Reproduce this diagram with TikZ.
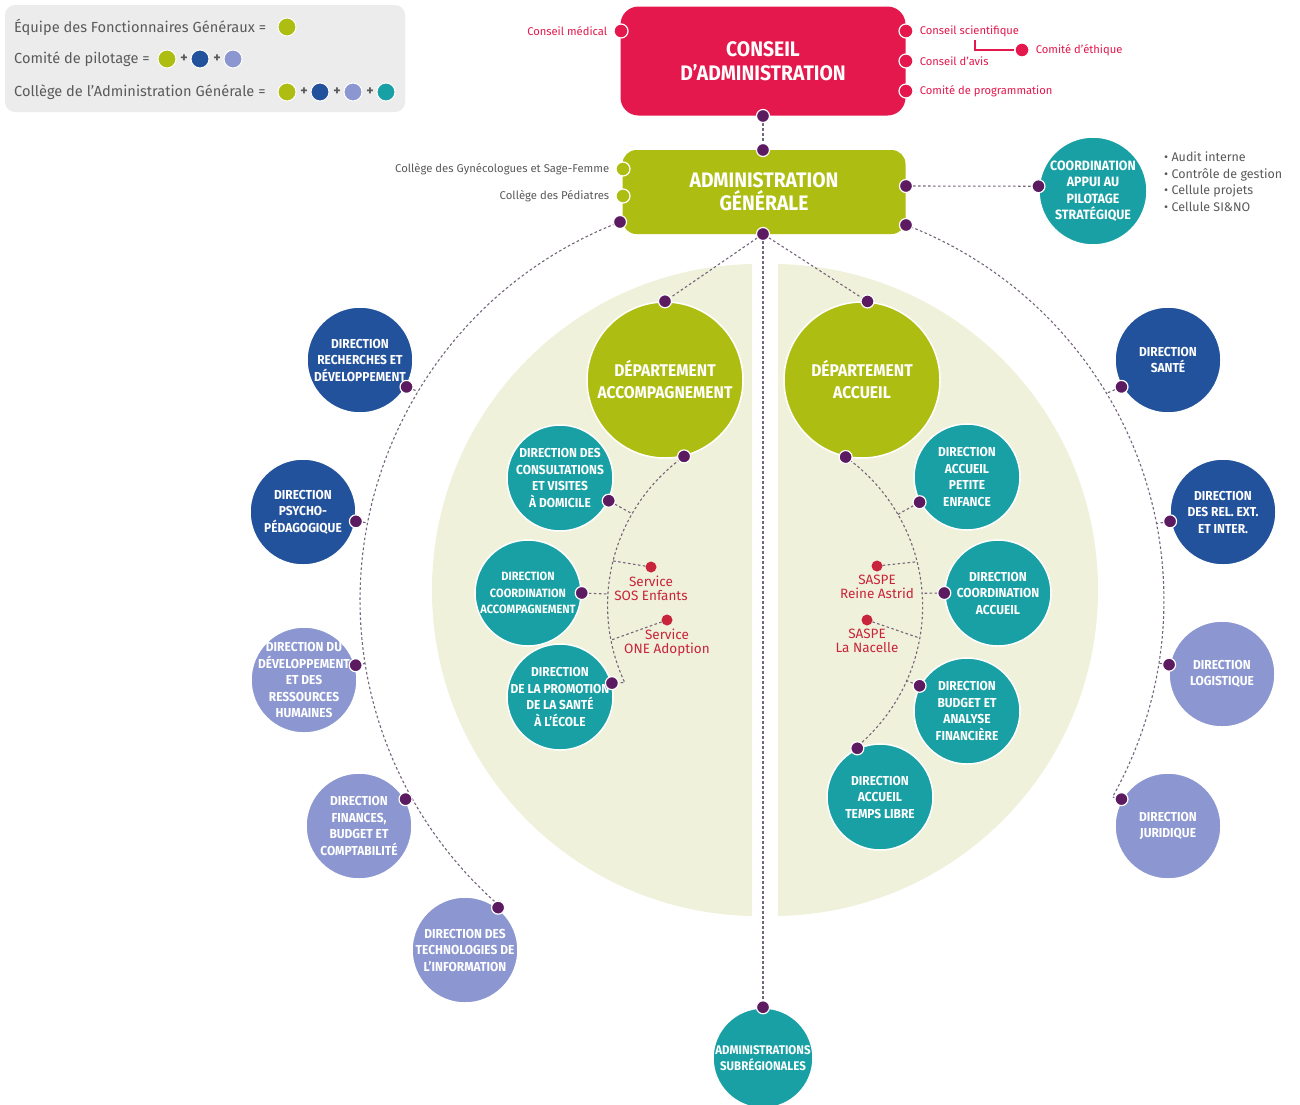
\documentclass[tikz,border=0pt]{standalone}
\usepackage{fontspec}
\setmainfont{Fira Sans}
\newfontfamily\dinfont[FakeStretch=0.92]{Fira Sans}
\usetikzlibrary{positioning}

\definecolor{cared}{RGB}{228,24,76}
\definecolor{agreen}{RGB}{174,189,18}
\definecolor{dirteal}{RGB}{24,160,164}
\definecolor{dirblue}{RGB}{35,82,156}
\definecolor{dirlav}{RGB}{140,150,208}
\definecolor{dotplum}{RGB}{92,26,96}
\definecolor{linkgray}{RGB}{118,100,124}
\definecolor{paleback}{RGB}{240,241,218}
\definecolor{leggray}{RGB}{236,236,236}
\definecolor{txtgray}{RGB}{90,90,90}
\definecolor{saspered}{RGB}{200,36,60}

\pgfdeclarelayer{back}
\pgfdeclarelayer{links}
\pgfsetlayers{back,links,main}

\tikzset{
  dir/.style={circle, draw=white, line width=1.5pt, minimum size=106pt, inner sep=-15pt,
    text=white, align=center, font=\dinfont\bfseries\fontsize{13}{16.5}\selectfont},
  bluedir/.style={dir, fill=dirblue},
  lavdir/.style={dir, fill=dirlav},
  tealdir/.style={dir, fill=dirteal},
  dept/.style={circle, draw=white, line width=1.5pt, fill=agreen, minimum size=156pt, inner sep=0pt,
    text=white, align=center, font=\dinfont\bfseries\fontsize{17}{22}\selectfont},
  cabox/.style={rectangle, rounded corners=18pt, fill=cared, minimum width=285pt, minimum height=109pt,
    text=white, align=center, font=\dinfont\bfseries\fontsize{21}{24}\selectfont},
  agbox/.style={rectangle, rounded corners=14pt, fill=agreen, minimum width=283pt, minimum height=84pt,
    text=white, align=center, font=\dinfont\bfseries\fontsize{21}{23}\selectfont},
  pdot/.style={circle, fill=dotplum, draw=white, line width=1.2pt, minimum size=13pt, inner sep=0pt},
  rdot/.style={circle, fill=cared, draw=white, line width=1.2pt, minimum size=14pt, inner sep=0pt},
  gdot/.style={circle, fill=agreen, draw=white, line width=1.2pt, minimum size=14pt, inner sep=0pt},
  sdot/.style={circle, fill=saspered, minimum size=11pt, inner sep=0pt},
  link/.style={draw=linkgray, line width=1.1pt, dash pattern=on 2.6pt off 2.4pt},
  sidelbl/.style={inner sep=1pt, text=cared, font=\fontsize{11.2}{13}\selectfont},
  aglbl/.style={inner sep=1pt, text=txtgray, font=\fontsize{11.3}{13}\selectfont},
  svclbl/.style={inner sep=1pt, text=saspered, align=center, font=\fontsize{13.5}{14}\selectfont},
  legtxt/.style={inner sep=1pt, text=txtgray, font=\fontsize{14.6}{16}\selectfont},
  legplus/.style={inner sep=0pt, text=txtgray, font=\bfseries\fontsize{14}{14}\selectfont},
  legdot/.style={circle, draw=white, line width=1pt, minimum size=18pt, inner sep=0pt},
}

\begin{document}
\begin{tikzpicture}[x=1pt,y=1pt]
\useasboundingbox (0,0) rectangle (1300,-1104);

% pale halves behind the two departments
\begin{pgfonlayer}{back}
\fill [white] (0,0) rectangle (1300,-1104);
\begin{scope}
\clip (400,-240) rectangle (752,-940);
\fill [paleback] (758,-590) circle (326);
\end{scope}
\begin{scope}
\clip (778,-240) rectangle (1130,-940);
\fill [paleback] (772,-590) circle (326);
\end{scope}
\end{pgfonlayer}

% legend
\fill [leggray, rounded corners=10pt] (5,-5) rectangle (405,-112);
\node [legtxt, anchor=west] (legA) at (13,-27) {Équipe des Fonctionnaires Généraux =};
\node [legdot, fill=agreen] (legA1) at (287,-27) {};
\node [legtxt, anchor=west] (legB) at (13,-59) {Comité de pilotage =};
\node [legdot, fill=agreen] (legB1) at (167,-59) {};
\node [legplus] at (184,-59) {+};
\node [legdot, fill=dirblue] (legB2) at (200,-59) {};
\node [legplus] at (217,-59) {+};
\node [legdot, fill=dirlav] (legB3) at (233,-59) {};
\node [legtxt, anchor=west] (legC) at (13,-92) {Collège de l’Administration Générale =};
\node [legdot, fill=agreen] (legC1) at (287,-92) {};
\node [legplus] at (304,-92) {+};
\node [legdot, fill=dirblue] (legC2) at (320,-92) {};
\node [legplus] at (337,-92) {+};
\node [legdot, fill=dirlav] (legC3) at (353,-92) {};
\node [legplus] at (370,-92) {+};
\node [legdot, fill=dirteal] (legC4) at (386,-92) {};

% conseil d'administration
\node [cabox] (ca) at (763,-61) {CONSEIL\\D’ADMINISTRATION};
\node [rdot] (cmed) at (621,-31) {};
\node [sidelbl, left=5pt of cmed] {Conseil médical};
\node [rdot] (csci) at (906,-31) {};
\node [sidelbl, right=5pt of csci] {Conseil scientifique};
\node [rdot] (cavis) at (906,-61) {};
\node [sidelbl, right=5pt of cavis] {Conseil d’avis};
\node [rdot] (cprog) at (906,-91) {};
\node [sidelbl, right=5pt of cprog] {Comité de programmation};
\node [rdot] (ceth) at (1022,-50) {};
\node [sidelbl, right=5pt of ceth] {Comité d’éthique};
\coordinate (ethroot) at (975,-40);
\draw [cared, line width=1.3pt] (ethroot) |- (ceth);
\node [pdot] (cabot) at (763,-116) {};

% administration generale
\node [agbox] (ag) at (764,-192) {ADMINISTRATION\\GÉNÉRALE};
\node [pdot] (agtop) at (763,-150) {};
\node [gdot] (cgyn) at (623,-169) {};
\node [aglbl, left=5pt of cgyn] {Collège des Gynécologues et Sage-Femme};
\node [gdot] (cped) at (623,-196) {};
\node [aglbl, left=5pt of cped] {Collège des Pédiatres};
\node [pdot] (agbl) at (620,-222) {};
\node [pdot] (agbot) at (763,-234) {};
\node [pdot] (agbr) at (906,-225) {};
\node [pdot] (agr) at (906,-186) {};

\node [tealdir, minimum size=108pt, font=\dinfont\bfseries\fontsize{13.5}{16.5}\selectfont] (cap) at (1093,-191) {COORDINATION\\APPUI AU\\PILOTAGE\\STRATÉGIQUE};
\node [pdot] (capdot) at (cap.175) {};
\node [legtxt, anchor=north west, align=left, font=\fontsize{12.5}{16.5}\selectfont] (caplist) at (1163,-151)
  {• Audit interne\\• Contrôle de gestion\\• Cellule projets\\• Cellule SI\&NO};

% departements
\node [dept] (dacc) at (665,-380) {DÉPARTEMENT\\ACCOMPAGNEMENT};
\node [pdot] (dacctop) at (dacc.north) {};
\node [pdot] (daccbot) at (dacc.-76) {};
\node [dept] (dacl) at (862,-380) {DÉPARTEMENT\\ACCUEIL};
\node [pdot] (dacltop) at (dacl.86) {};
\node [pdot] (daclbot) at (dacl.-102.5) {};

% directions, left ring
\node [bluedir] (drd) at (360,-360) {DIRECTION\\RECHERCHES ET\\DÉVELOPPEMENT};
\node [pdot] (drddot) at (drd.-30) {};
\node [bluedir] (dpsy) at (303,-512) {DIRECTION\\PSYCHO-\\PÉDAGOGIQUE};
\node [pdot] (dpsydot) at (dpsy.-10) {};
\node [lavdir] (drh) at (304,-680) {DIRECTION DU\\DÉVELOPPEMENT\\ET DES\\RESSOURCES\\HUMAINES};
\node [pdot] (drhdot) at (drh.16) {};
\node [lavdir] (dfin) at (359,-826) {DIRECTION\\FINANCES,\\BUDGET ET\\COMPTABILITÉ};
\node [pdot] (dfindot) at (dfin.30) {};
\node [lavdir] (dti) at (465,-950) {DIRECTION DES\\TECHNOLOGIES DE\\L’INFORMATION};
\node [pdot] (dtidot) at (dti.52) {};

% directions, right ring
\node [bluedir] (dsan) at (1168,-360) {DIRECTION\\SANTÉ};
\node [pdot] (dsandot) at (dsan.210) {};
\node [bluedir] (drel) at (1223,-512) {DIRECTION\\DES REL. EXT.\\ET INTER.};
\node [pdot] (dreldot) at (drel.190) {};
\node [lavdir] (dlog) at (1222,-674) {DIRECTION\\LOGISTIQUE};
\node [pdot] (dlogdot) at (dlog.170) {};
\node [lavdir] (djur) at (1168,-826) {DIRECTION\\JURIDIQUE};
\node [pdot] (djurdot) at (djur.150) {};

% accompagnement
\node [tealdir] (dcons) at (560,-478) {DIRECTION DES\\CONSULTATIONS\\ET VISITES\\À DOMICILE};
\node [pdot] (dconsdot) at (dcons.-25) {};
\node [tealdir, font=\dinfont\bfseries\fontsize{12}{16.5}\selectfont] (dcoa) at (528,-593) {DIRECTION\\COORDINATION\\ACCOMPAGNEMENT};
\node [pdot] (dcoadot) at (dcoa.0) {};
\node [tealdir] (dpro) at (560,-697) {DIRECTION\\DE LA PROMOTION\\DE LA SANTÉ\\À L’ÉCOLE};
\node [pdot] (dprodot) at (dpro.15) {};
\node [sdot] (ssos) at (651,-567) {};
\node [svclbl, below=2pt of ssos] {Service\\SOS Enfants};
\node [sdot] (sone) at (667,-620) {};
\node [svclbl, below=2pt of sone] {Service\\ONE Adoption};

% accueil
\node [tealdir] (dpe) at (967,-477) {DIRECTION\\ACCUEIL\\PETITE\\ENFANCE};
\node [pdot] (dpedot) at (dpe.208) {};
\node [tealdir] (dcac) at (998,-593) {DIRECTION\\COORDINATION\\ACCUEIL};
\node [pdot] (dcacdot) at (dcac.180) {};
\node [tealdir] (dbud) at (967,-711) {DIRECTION\\BUDGET ET\\ANALYSE\\FINANCIÈRE};
\node [pdot] (dbuddot) at (dbud.152) {};
\node [tealdir] (dtl) at (880,-797) {DIRECTION\\ACCUEIL\\TEMPS LIBRE};
\node [pdot] (dtldot) at (dtl.115) {};
\node [sdot] (sra) at (877,-566) {};
\node [svclbl, below=2pt of sra] {SASPE\\Reine Astrid};
\node [sdot] (sna) at (867,-620) {};
\node [svclbl, below=2pt of sna] {SASPE\\La Nacelle};

\node [tealdir, minimum size=100pt, font=\dinfont\bfseries\fontsize{12.5}{16}\selectfont] (dsub) at (763,-1058) {ADMINISTRATIONS\\SUBRÉGIONALES};
\node [pdot] (dsubdot) at (dsub.north) {};

% points where the branches meet the arcs
\coordinate (brRD) at (417.8,-391.4);
\coordinate (brPsy) at (367.4,-522.7);
\coordinate (brRH) at (365,-663.4);
\coordinate (brFin) at (410.8,-796.3);
\coordinate (brSan) at (1106.5,-393.3);
\coordinate (brRel) at (1156.5,-523.6);
\coordinate (brLog) at (1158.9,-663.2);
\coordinate (blCons) at (632,-513.7);
\coordinate (blSos) at (612.9,-560.9);
\coordinate (blCoa) at (607.8,-594);
\coordinate (blOne) at (610.9,-640.1);
\coordinate (rPe) at (897.5,-514.6);
\coordinate (rRa) at (916.6,-561.8);
\coordinate (rCac) at (921.6,-593.3);
\coordinate (rNa) at (919.2,-637.9);
\coordinate (rBud) at (906.2,-680.5);

\begin{pgfonlayer}{links}
\draw [link] (cabot) -- (agtop);
\draw [link] (agr) -- (capdot);
\draw [link] (agbot) -- (dacctop);
\draw [link] (agbot) -- (dacltop);
\draw [link] (agbot) -- (dsubdot);
\draw [link] (agbl.center) arc[start angle=111, end angle=228.8, radius=405] -- (dtidot);
\draw [link] (agbr.center) arc[start angle=69, end angle=-29.3, radius=402] -- (djurdot);
\draw [link] (drddot) -- (brRD);
\draw [link] (dpsydot) -- (brPsy);
\draw [link] (drhdot) -- (brRH);
\draw [link] (dfindot) -- (brFin);
\draw [link] (dsandot) -- (brSan);
\draw [link] (dreldot) -- (brRel);
\draw [link] (dlogdot) -- (brLog);
\draw [link] (daccbot.center) arc[start angle=125.6, end angle=205, radius=183] -- (dprodot);
\draw [link] (dconsdot) -- (blCons);
\draw [link] (ssos) -- (blSos);
\draw [link] (dcoadot) -- (blCoa);
\draw [link] (sone) -- (blOne);
\draw [link] (daclbot.center) arc[start angle=54.6, end angle=-51, radius=183] -- (dtldot);
\draw [link] (dpedot) -- (rPe);
\draw [link] (sra) -- (rRa);
\draw [link] (dcacdot) -- (rCac);
\draw [link] (sna) -- (rNa);
\draw [link] (dbuddot) -- (rBud);
\end{pgfonlayer}
\end{tikzpicture}
\end{document}
